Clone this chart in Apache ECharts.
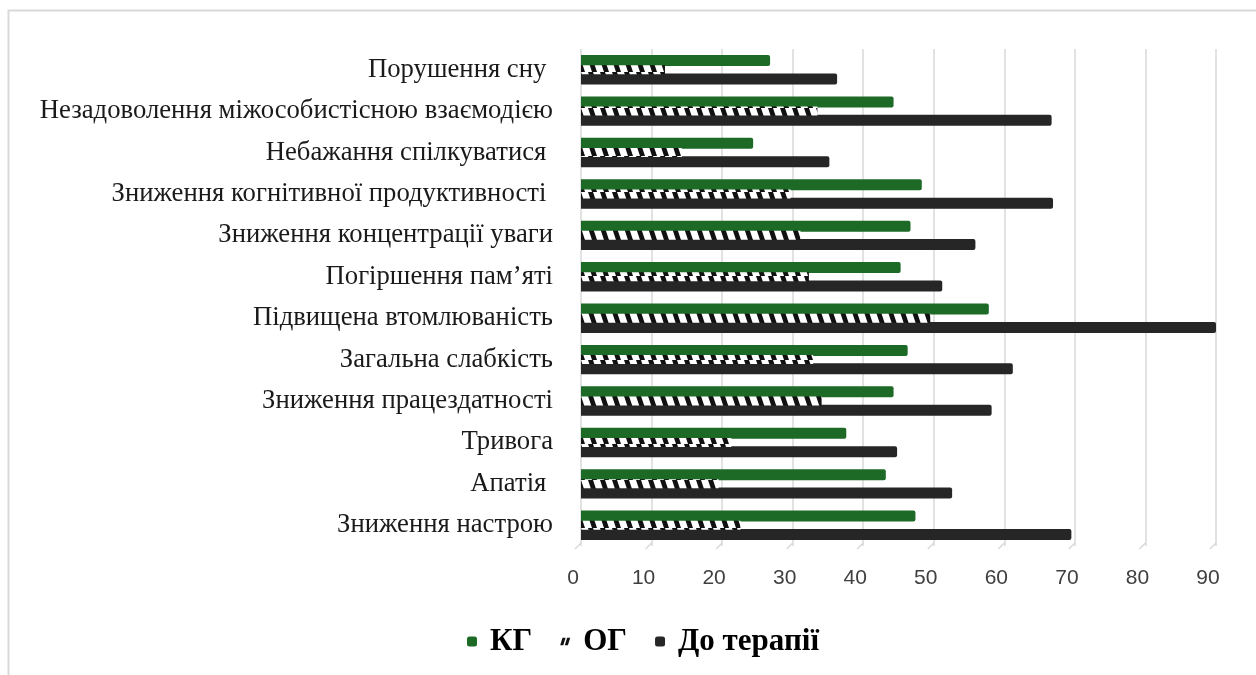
<!DOCTYPE html>
<html>
<head>
<meta charset="utf-8">
<script src="https://cdn.jsdelivr.net/npm/echarts@6/dist/echarts.min.js"></script>
<style>
  html, body { margin: 0; padding: 0; background: #fff; }
  #chart { width: 1256px; height: 675px; }
</style>
</head>
<body>
<div id="chart"></div>
<script>
// Symptom categories, listed from the bottom of the axis to the top
const categories = [
  'Зниження настрою',
  'Апатія ',
  'Тривога',
  'Зниження працездатності',
  'Загальна слабкість',
  'Підвищена втомлюваність',
  'Погіршення пам\u2019яті',
  'Зниження концентрації уваги',
  'Зниження когнітивної продуктивності ',
  'Небажання спілкуватися ',
  'Незадоволення міжособистісною взаємодією',
  'Порушення сну '
];

// Values per group (same order as categories)
const kgValues      = [47.4, 43.2, 37.6, 44.3, 46.3, 57.8, 45.3, 46.7, 48.3, 24.4, 44.3, 26.8];
const ogValues      = [22.6, 19.5, 21.3, 34.1, 32.9, 49.5, 32.3, 31.1, 29.7, 14.3, 33.5, 11.9];
const beforeTherapy = [69.5, 52.6, 44.8, 58.2, 61.2, 90, 51.2, 55.9, 66.9, 35.2, 66.7, 36.3];

// Value axis ticks
const xTickValues = [0, 10, 20, 30, 40, 50, 60, 70, 80, 90];

// Black-and-white slanted hatch used for the ОГ bars
function makeHatch() {
  const c = document.createElement('canvas');
  c.width = 12; c.height = 12;
  const g = c.getContext('2d');
  g.fillStyle = '#ffffff';
  g.fillRect(0, 0, 12, 12);
  g.fillStyle = '#111111';
  [-12, 0, 12].forEach(function (o) {
    g.beginPath();
    g.moveTo(o, 0); g.lineTo(o + 5, 0); g.lineTo(o + 9, 12); g.lineTo(o + 4, 12);
    g.closePath(); g.fill();
  });
  return c;
}
const hatch = { image: makeHatch(), repeat: 'repeat' };

const GREEN = '#1c6a25';
const DARK = '#262626';
const GRID_COLOR = '#d9d9d9';

const chart = echarts.init(document.getElementById('chart'), null, { renderer: 'canvas' });

chart.setOption({
  animation: false,
  backgroundColor: '#ffffff',
  graphic: [{
    type: 'rect',
    shape: { x: 8.5, y: 10.5, width: 1400, height: 800 },
    style: { fill: 'none', stroke: '#d9d9d9', lineWidth: 2 },
    silent: true
  }],
  grid: { left: 581, right: 40, top: 49, bottom: 129, containLabel: false },
  legend: {
    top: 621,
    left: 462,
    itemWidth: 10,
    itemHeight: 10,
    itemGap: 28,
    data: [
      { name: 'КГ' },
      {
        name: 'ОГ',
        icon: 'path://M3,0 L7,0 L4,10 L0,10 Z M9,0 L13,0 L10,10 L6,10 Z',
        itemStyle: { color: '#111111' }
      },
      { name: 'До терапії' }
    ],
    textStyle: {
      fontFamily: 'Liberation Serif',
      fontWeight: 'bold',
      fontSize: 31,
      color: '#000',
      padding: [0, 0, 0, 8]
    }
  },
  xAxis: {
    type: 'value',
    min: 0,
    max: 90,
    interval: 10,
    axisLine: { show: false },
    axisTick: { show: false },
    splitLine: { show: true, lineStyle: { color: GRID_COLOR, width: 1.5 } },
    axisLabel: {
      fontFamily: 'Liberation Sans',
      fontSize: 21,
      color: '#404040',
      margin: 22,
      padding: [0, 16, 0, 0]
    }
  },
  yAxis: {
    type: 'category',
    data: categories,
    axisLine: { show: false },
    axisTick: { show: false },
    axisLabel: {
      fontFamily: 'Liberation Serif',
      fontSize: 26.7,
      color: '#1a1a1a',
      margin: 28,
      padding: [8, 0, 0, 0]
    }
  },
  series: [
    {
      name: 'КГ',
      type: 'bar',
      data: kgValues,
      barWidth: 11,
      barGap: '-8%',
      z: 2,
      itemStyle: { color: GREEN, borderRadius: [0, 2, 2, 0] }
    },
    {
      name: 'ОГ',
      type: 'bar',
      data: ogValues,
      barWidth: 9,
      barGap: '-8%',
      z: 3,
      itemStyle: { color: hatch }
    },
    {
      name: 'До терапії',
      type: 'bar',
      data: beforeTherapy,
      barWidth: 11,
      barGap: '-8%',
      z: 2,
      itemStyle: { color: DARK, borderRadius: [0, 2, 2, 0] }
    },
    {
      // short floor edges at the foot of each gridline
      type: 'custom',
      silent: true,
      data: xTickValues,
      encode: { x: 0 },
      z: 1,
      renderItem: function (params, api) {
        const p = api.coord([api.value(0), categories[0]]);
        const bottom = params.coordSys.y + params.coordSys.height;
        return {
          type: 'line',
          shape: { x1: p[0], y1: bottom - 3, x2: p[0] - 6, y2: bottom + 3 },
          style: { stroke: GRID_COLOR, lineWidth: 1.5 }
        };
      }
    }
  ]
});
</script>
</body>
</html>
